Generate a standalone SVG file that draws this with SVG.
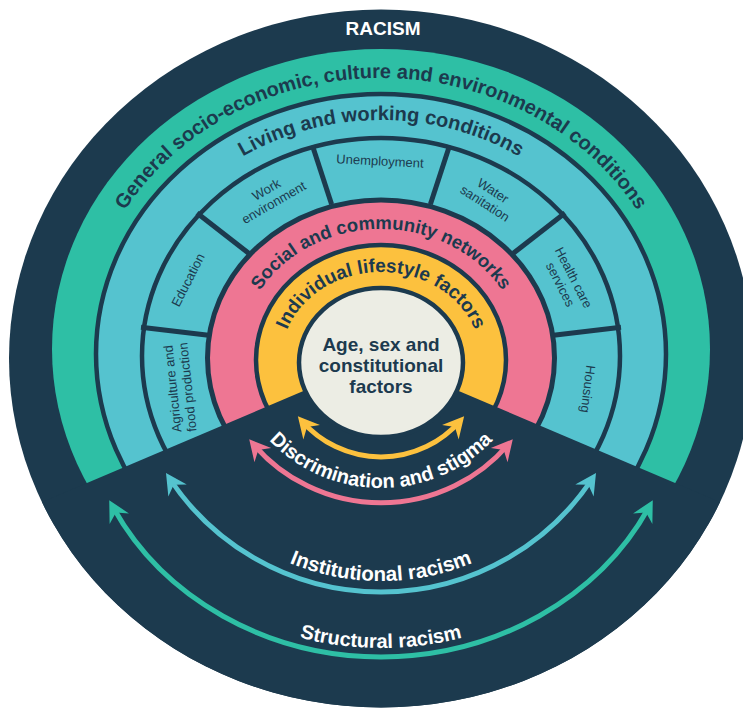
<svg xmlns="http://www.w3.org/2000/svg" xmlns:xlink="http://www.w3.org/1999/xlink" width="743" height="709" viewBox="0 0 743 709">
<style>
.navy{fill:#1c3a4e}
.title{font-family:"Liberation Sans",Arial,sans-serif;font-weight:bold;font-size:20px;fill:#1c3a4e}
.white{font-family:"Liberation Sans",Arial,sans-serif;font-weight:bold;font-size:20px;fill:#ffffff}
.seg{font-family:"Liberation Sans",Arial,sans-serif;font-size:13px;fill:#1c3a4e;text-anchor:middle}
.ring{stroke:#1c3a4e}
.div{stroke:#1c3a4e;stroke-width:5}
.arc{fill:none;stroke-width:5}
</style>
<defs>
<clipPath id="outerClip"><ellipse cx="381" cy="358.5" rx="372" ry="349"/></clipPath>
<marker id="ahY" viewBox="-22 -12 24 24" refX="-6" refY="0" markerWidth="24" markerHeight="24" markerUnits="userSpaceOnUse" orient="auto-start-reverse"><path d="M0,0 L-21,-11 L-14,0 L-21,11 Z" fill="#fcc13e"/></marker>
<marker id="ahP" viewBox="-22 -12 24 24" refX="-6" refY="0" markerWidth="24" markerHeight="24" markerUnits="userSpaceOnUse" orient="auto-start-reverse"><path d="M0,0 L-21,-11 L-14,0 L-21,11 Z" fill="#ee7693"/></marker>
<marker id="ahB" viewBox="-22 -12 24 24" refX="-6" refY="0" markerWidth="24" markerHeight="24" markerUnits="userSpaceOnUse" orient="auto-start-reverse"><path d="M0,0 L-21,-11 L-14,0 L-21,11 Z" fill="#55c3cf"/></marker>
<marker id="ahG" viewBox="-22 -12 24 24" refX="-6" refY="0" markerWidth="24" markerHeight="24" markerUnits="userSpaceOnUse" orient="auto-start-reverse"><path d="M0,0 L-21,-11 L-14,0 L-21,11 Z" fill="#2ebfa5"/></marker>
<path id="pGreen" d="M 83 349 A 298 271 0 0 1 679 349"/>
<path id="pLiving" d="M 124 354 A 257 234 0 0 1 638 354"/>
<path id="pPink" d="M 239 358 A 142 129 0 0 1 523 358"/>
<path id="pYellow" d="M 281 360 A 100 88 0 0 1 481 360"/>
<path id="pDisc" d="M 226 333 A 155 155 0 0 0 536 333"/>
<path id="pInst" d="M 140 340 A 241 241 0 0 0 622 340"/>
<path id="pStruct" d="M 90 385 A 291 263 0 0 0 672 385"/>
</defs>

<rect width="743" height="709" fill="#ffffff"/>

<g id="racism">
<ellipse cx="381" cy="358.5" rx="372" ry="349" class="navy"/>
<text x="383" y="35" class="white" text-anchor="middle" style="font-size:19px">RACISM</text>
</g>

<g id="general-conditions">
<ellipse cx="381" cy="349" rx="329" ry="300" fill="#2ebfa5"/>
</g>

<g id="living-working">
<ellipse cx="381" cy="354" rx="285" ry="260" fill="#55c3cf" class="ring" stroke-width="4.5"/>
</g>

<g id="segments-ring">
<ellipse cx="381" cy="356" rx="239" ry="218" fill="#55c3cf" class="ring" stroke-width="4.5"/>
<line x1="208.5" y1="335.3" x2="141" y2="327.3" class="div"/>
<line x1="248.7" y1="253.2" x2="197" y2="213" class="div"/>
<line x1="331.6" y1="204.2" x2="312.4" y2="145.5" class="div"/>
<line x1="430.4" y1="204.2" x2="449.6" y2="145.5" class="div"/>
<line x1="513.3" y1="253.2" x2="565" y2="213" class="div"/>
<line x1="553.5" y1="335.3" x2="621" y2="327.3" class="div"/>
</g>

<g id="social-community">
<ellipse cx="381" cy="358" rx="173.5" ry="158" fill="#ee7693" class="ring" stroke-width="5"/>
</g>

<g id="individual-lifestyle">
<ellipse cx="381" cy="360" rx="125" ry="115" fill="#fcc13e" class="ring" stroke-width="4.5"/>
</g>

<g id="wedge">
<polygon points="381,358 -19,528 -19,720 781,720 781,528" class="navy" clip-path="url(#outerClip)"/>
</g>

<g id="age-sex">
<ellipse cx="381" cy="362.5" rx="82" ry="74.5" fill="#ecede4" class="ring" stroke-width="4.5"/>
<text class="title" text-anchor="middle" style="font-size:19px"><tspan x="381" y="351">Age, sex and</tspan><tspan x="381" y="372">constitutional</tspan><tspan x="381" y="393">factors</tspan></text>
</g>

<g id="ring-labels">
<text class="title"><textPath xlink:href="#pGreen" href="#pGreen" startOffset="50%" text-anchor="middle">General socio-economic, culture and environmental conditions</textPath></text>
<text class="title"><textPath xlink:href="#pLiving" href="#pLiving" startOffset="50%" text-anchor="middle">Living and working conditions</textPath></text>
<text class="title" style="font-size:18.5px"><textPath xlink:href="#pPink" href="#pPink" startOffset="50%" text-anchor="middle">Social and community networks</textPath></text>
<text class="title" style="font-size:19px"><textPath xlink:href="#pYellow" href="#pYellow" startOffset="50%" text-anchor="middle">Individual lifestyle factors</textPath></text>
</g>

<g id="seg-agriculture"><text class="seg" transform="translate(180,388) rotate(-96)"><tspan x="0" y="-3">Agriculture and</tspan><tspan x="0" y="12">food production</tspan></text></g>
<g id="seg-education"><text class="seg" transform="translate(188,280) rotate(-63)" y="4.5">Education</text></g>
<g id="seg-work"><text class="seg" transform="translate(270,196) rotate(-30)"><tspan x="0" y="-3">Work</tspan><tspan x="0" y="12">environment</tspan></text></g>
<g id="seg-unemployment"><text class="seg" transform="translate(380,161) rotate(3)" y="4.5">Unemployment</text></g>
<g id="seg-water"><text class="seg" transform="translate(489,197) rotate(33)"><tspan x="0" y="-3">Water</tspan><tspan x="0" y="12">sanitation</tspan></text></g>
<g id="seg-health"><text class="seg" transform="translate(567,281) rotate(63)"><tspan x="0" y="-3">Health care</tspan><tspan x="0" y="12">services</tspan></text></g>
<g id="seg-housing"><text class="seg" transform="translate(588,389) rotate(97)" y="4.5">Housing</text></g>

<g id="connectors">
<path d="M 301.8 420.9 A 105 105 0 0 0 460.2 420.9" class="arc" stroke="#fcc13e" marker-start="url(#ahY)" marker-end="url(#ahY)"/>
<path d="M 253.1 443.8 A 168 168 0 0 0 508.9 443.8" class="arc" stroke="#ee7693" marker-start="url(#ahP)" marker-end="url(#ahP)"/>
<path d="M 169.3 478 A 253 252 0 0 0 592.7 478" class="arc" stroke="#55c3cf" marker-start="url(#ahB)" marker-end="url(#ahB)"/>
<path d="M 112.1 505.5 A 300 272 0 0 0 649.9 505.5" class="arc" stroke="#2ebfa5" marker-start="url(#ahG)" marker-end="url(#ahG)"/>
</g>

<g id="arrow-labels">
<text class="white"><textPath xlink:href="#pDisc" href="#pDisc" startOffset="50%" text-anchor="middle">Discrimination and stigma</textPath></text>
<text class="white" style="font-size:20.5px"><textPath xlink:href="#pInst" href="#pInst" startOffset="50%" text-anchor="middle">Institutional racism</textPath></text>
<text class="white"><textPath xlink:href="#pStruct" href="#pStruct" startOffset="50%" text-anchor="middle">Structural racism</textPath></text>
</g>
</svg>
